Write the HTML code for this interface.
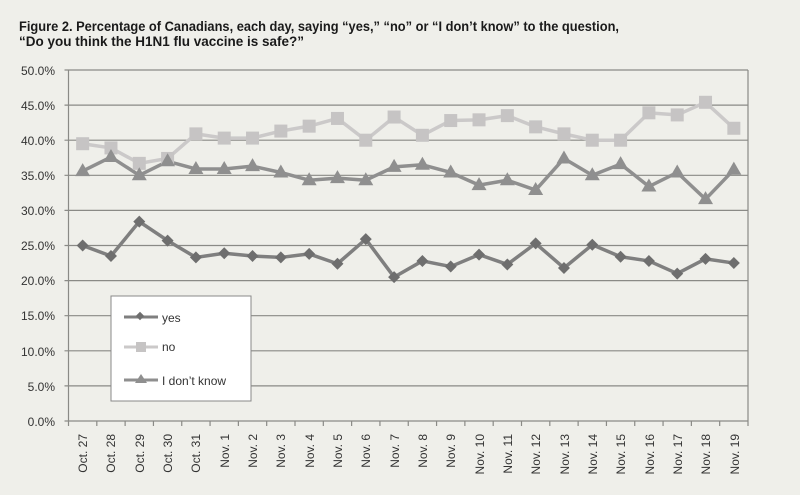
<!DOCTYPE html>
<html><head><meta charset="utf-8"><style>
html,body{margin:0;padding:0;background:#efefea;}
svg{display:block;}
text{font-family:"Liberation Sans",sans-serif;}
</style></head><body>
<svg id="s" width="800" height="495" viewBox="0 0 800 495" xmlns="http://www.w3.org/2000/svg">
<rect width="800" height="495" fill="#efefea"/>
<text x="19" y="31" font-size="13.5" font-weight="bold" fill="#1a1a1a" textLength="600" lengthAdjust="spacingAndGlyphs">Figure 2. Percentage of Canadians, each day, saying “yes,” “no” or “I don’t know” to the question,</text>
<text x="19" y="46" font-size="13.5" font-weight="bold" fill="#1a1a1a" textLength="285" lengthAdjust="spacingAndGlyphs">“Do you think the H1N1 flu vaccine is safe?”</text>
<g id="grid" stroke="#8a8a86" stroke-width="1.2"></g>
<g font-size="12" fill="#333" text-anchor="end">
<text x="55" y="75">50.0%</text><text x="55" y="110">45.0%</text><text x="55" y="145">40.0%</text><text x="55" y="180">35.0%</text><text x="55" y="215">30.0%</text><text x="55" y="250">25.0%</text><text x="55" y="285">20.0%</text><text x="55" y="320">15.0%</text><text x="55" y="356">10.0%</text><text x="55" y="391">5.0%</text><text x="55" y="426">0.0%</text>
</g>
<g font-size="12" fill="#333" text-anchor="end" id="xl">
<text transform="translate(87,434) rotate(-90)">Oct. 27</text>
<text transform="translate(115,434) rotate(-90)">Oct. 28</text>
<text transform="translate(144,434) rotate(-90)">Oct. 29</text>
<text transform="translate(172,434) rotate(-90)">Oct. 30</text>
<text transform="translate(200,434) rotate(-90)">Oct. 31</text>
<text transform="translate(229,434) rotate(-90)">Nov. 1</text>
<text transform="translate(257,434) rotate(-90)">Nov. 2</text>
<text transform="translate(285,434) rotate(-90)">Nov. 3</text>
<text transform="translate(314,434) rotate(-90)">Nov. 4</text>
<text transform="translate(342,434) rotate(-90)">Nov. 5</text>
<text transform="translate(370,434) rotate(-90)">Nov. 6</text>
<text transform="translate(399,434) rotate(-90)">Nov. 7</text>
<text transform="translate(427,434) rotate(-90)">Nov. 8</text>
<text transform="translate(455,434) rotate(-90)">Nov. 9</text>
<text transform="translate(484,434) rotate(-90)">Nov. 10</text>
<text transform="translate(512,434) rotate(-90)">Nov. 11</text>
<text transform="translate(540,434) rotate(-90)">Nov. 12</text>
<text transform="translate(569,434) rotate(-90)">Nov. 13</text>
<text transform="translate(597,434) rotate(-90)">Nov. 14</text>
<text transform="translate(625,434) rotate(-90)">Nov. 15</text>
<text transform="translate(654,434) rotate(-90)">Nov. 16</text>
<text transform="translate(682,434) rotate(-90)">Nov. 17</text>
<text transform="translate(710,434) rotate(-90)">Nov. 18</text>
<text transform="translate(739,434) rotate(-90)">Nov. 19</text>
</g>
<g id="series"></g>
<rect x="111" y="296" width="140" height="105" fill="#fff" stroke="#888" stroke-width="1"/>
<line x1="124" y1="317" x2="158" y2="317" stroke="#7f7f7f" stroke-width="3"/>
<rect x="137" y="313" width="6" height="6" fill="#6e6e6e" transform="rotate(45 140 316)"/>
<line x1="124" y1="347" x2="158" y2="347" stroke="#cbc9c9" stroke-width="3"/>
<rect x="136" y="342" width="10" height="10" fill="#c6c4c4"/>
<line x1="124" y1="380" x2="158" y2="380" stroke="#8f8f8f" stroke-width="3"/>
<polygon points="141,374 147,383 135,383" fill="#8f8f8f"/>
<g font-size="12" fill="#333"><text x="162" y="322">yes</text><text x="162" y="351">no</text><text x="162" y="385">I don’t know</text></g>
</svg>
<script>
var NS="http://www.w3.org/2000/svg",g=document.getElementById('grid'),sr=document.getElementById('series');
function el(t,a,p){var e=document.createElementNS(NS,t);for(var k in a)e.setAttribute(k,a[k]);p.appendChild(e);return e;}
var L=68.5,R=748,T=70,B=421;
for(var i=0;i<=10;i++){var y=B-(B-T)*i/10;el('line',{x1:L-4,y1:y,x2:R,y2:y},g);}
el('line',{x1:L,y1:T,x2:L,y2:B},g);el('line',{x1:R,y1:T,x2:R,y2:B},g);
var w=(R-L)/24;for(var i=0;i<=24;i++){el('line',{x1:L+i*w,y1:B,x2:L+i*w,y2:B+5},g);}
function X(i){return L+w*(i+.5);}function Y(v){return B-(B-T)*v/50;}
var yes=[25.0,23.5,28.4,25.7,23.3,23.9,23.5,23.3,23.8,22.4,25.9,20.5,22.8,22.0,23.7,22.3,25.3,21.8,25.1,23.4,22.8,21.0,23.1,22.5];
var no=[39.5,38.9,36.7,37.4,40.9,40.3,40.3,41.3,42.0,43.1,40.0,43.3,40.7,42.8,42.9,43.5,41.9,40.9,40.0,40.0,43.9,43.6,45.4,41.7];
var idk=[35.6,37.6,35.0,37.0,35.9,35.9,36.3,35.4,34.3,34.6,34.3,36.2,36.5,35.4,33.6,34.3,32.9,37.4,35.0,36.6,33.4,35.4,31.6,35.8];
function pl(d,c){el('polyline',{points:d.map(function(v,i){return X(i)+','+Y(v)}).join(' '),fill:'none',stroke:c,'stroke-width':3.5,'stroke-linejoin':'round'},sr);}
pl(no,'#cbc9c9');pl(idk,'#8f8f8f');pl(yes,'#7f7f7f');
no.forEach(function(v,i){el('rect',{x:X(i)-6.5,y:Y(v)-6.5,width:13,height:13,fill:'#c6c4c4'},sr);});
idk.forEach(function(v,i){var x=X(i),y=Y(v);el('polygon',{points:(x)+','+(y-8)+' '+(x+7.5)+','+(y+5)+' '+(x-7.5)+','+(y+5),fill:'#8f8f8f'},sr);});
yes.forEach(function(v,i){var x=X(i),y=Y(v);el('polygon',{points:x+','+(y-6)+' '+(x+6)+','+y+' '+x+','+(y+6)+' '+(x-6)+','+y,fill:'#6e6e6e'},sr);});
</script>
</body></html>
